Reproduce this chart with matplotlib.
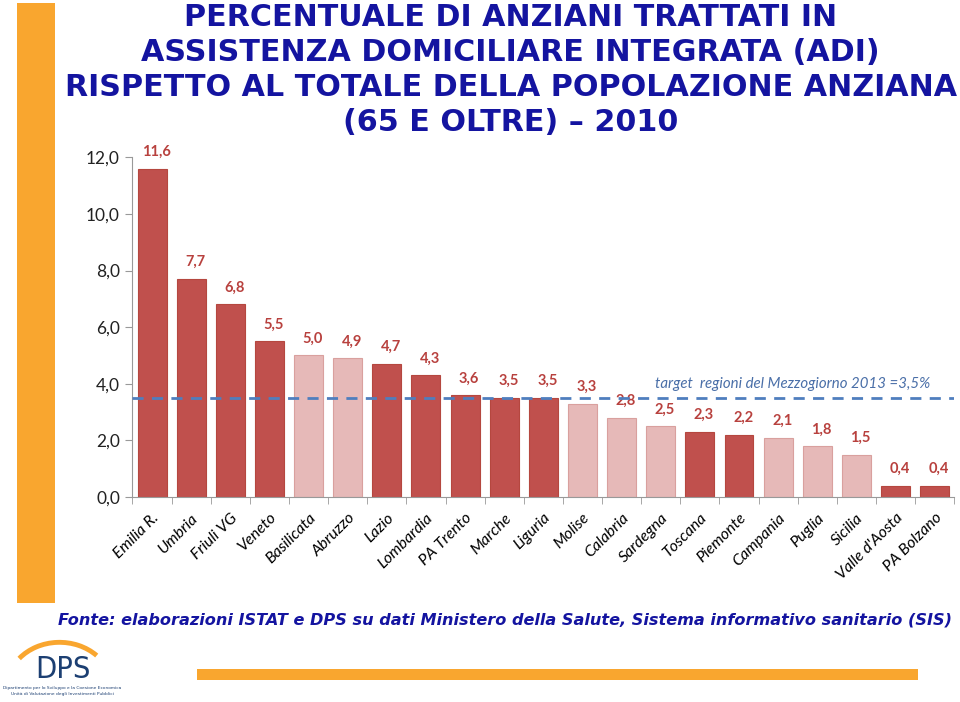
import matplotlib.pyplot as plt
from matplotlib.patches import Rectangle, Arc
from matplotlib.ticker import FixedLocator

regioni = ["Emilia R.", "Umbria", "Friuli VG", "Veneto", "Basilicata", "Abruzzo",
           "Lazio", "Lombardia", "PA Trento", "Marche", "Liguria", "Molise",
           "Calabria", "Sardegna", "Toscana", "Piemonte", "Campania", "Puglia",
           "Sicilia", "Valle d'Aosta", "PA Bolzano"]
valori = [11.6, 7.7, 6.8, 5.5, 5.0, 4.9, 4.7, 4.3, 3.6, 3.5, 3.5, 3.3,
          2.8, 2.5, 2.3, 2.2, 2.1, 1.8, 1.5, 0.4, 0.4]
mezzogiorno = ["Basilicata", "Abruzzo", "Molise", "Calabria", "Sardegna",
               "Campania", "Puglia", "Sicilia"]
target = 3.5

scuro = "#C0504D"
chiaro = "#E6B9B8"
blu_tit = "#1414A0"
arancio = "#F9A62F"

fig = plt.figure(figsize=(9.6, 7.02), dpi=100)
fig.patch.set_facecolor("white")

# barre decorative arancioni
fig.add_artist(Rectangle((0.0177, 0.141), 0.0396, 0.855, transform=fig.transFigure,
                         facecolor=arancio, edgecolor="none"))
fig.add_artist(Rectangle((0.205, 0.0313), 0.751, 0.0157, transform=fig.transFigure,
                         facecolor=arancio, edgecolor="none"))

# titolo
righe = ["PERCENTUALE DI ANZIANI TRATTATI IN",
         "ASSISTENZA DOMICILIARE INTEGRATA (ADI)",
         "RISPETTO AL TOTALE DELLA POPOLAZIONE ANZIANA",
         "(65 E OLTRE) \u2013 2010"]
for i, r in enumerate(righe):
    fig.text(0.532, 1 - (26 + 35 * i) / 702, r, ha="center", va="baseline",
             fontsize=21.7, fontweight="bold", color=blu_tit, family="DejaVu Sans")

ax = fig.add_axes([0.138, 0.292, 0.856, 0.484])
x = list(range(len(regioni)))
colori = [chiaro if r in mezzogiorno else scuro for r in regioni]
bordi = ["#D9A09E" if r in mezzogiorno else "#B5473F" for r in regioni]
ax.bar(x, valori, width=0.74, color=colori, edgecolor=bordi, linewidth=0.8, zorder=2)

for xi, v in zip(x, valori):
    ax.annotate(f"{v:.1f}".replace(".", ","), (xi, v), xytext=(3, 7),
                textcoords="offset points", ha="center", va="bottom",
                fontsize=10.5, fontweight="bold", color="#B8413E", family="Lato")

ax.axhline(target, color="#4F7EBE", linewidth=2, linestyle=(0, (4, 3)), zorder=3)
ax.text(16.38, 4.0, "target  regioni del Mezzogiorno 2013 =3,5%", ha="center",
        va="center", fontsize=10.8, style="italic", color="#4A6FA8", family="Lato")

ax.set_xlim(-0.5, len(regioni) - 0.5)
ax.set_ylim(0, 12)
ax.set_yticks([0, 2, 4, 6, 8, 10, 12])
ax.set_yticklabels([f"{t:.1f}".replace(".", ",") for t in [0, 2, 4, 6, 8, 10, 12]],
                   fontsize=12.5, family="Lato", color="#222222")
ax.set_xticks(x)
ax.set_xticklabels(regioni, rotation=45, ha="right", rotation_mode="anchor",
                   fontsize=11.5, style="italic", family="Lato")
ax.tick_params(axis="x", which="major", length=0, pad=10)
ax.xaxis.set_minor_locator(FixedLocator([i - 0.5 for i in range(len(regioni) + 1)]))
ax.tick_params(axis="x", which="minor", length=5, color="#999999")
ax.tick_params(axis="y", length=5, color="#999999", pad=4)
for s in ["top", "right"]:
    ax.spines[s].set_visible(False)
for s in ["left", "bottom"]:
    ax.spines[s].set_color("#999999")

# fonte
fig.text(0.06, 1 - 620 / 702,
         "Fonte: elaborazioni ISTAT e DPS su dati Ministero della Salute, Sistema informativo sanitario (SIS)",
         ha="left", va="center", fontsize=11.6, fontweight="bold", style="italic",
         color=blu_tit, family="DejaVu Sans")

# logo DPS
fig.add_artist(Arc((0.062, 0.02), 0.11, 0.13, theta1=50, theta2=135,
                   transform=fig.transFigure, color=arancio, linewidth=3.5))
fig.text(0.066, 1 - 670 / 702, "DPS", ha="center", va="center", fontsize=22,
         color="#1C3F72", family="DejaVu Sans", fontstretch="condensed")
fig.text(0.065, 1 - 688 / 702, "Dipartimento per lo Sviluppo e la Coesione Economica",
         ha="center", va="center", fontsize=3.2, color="#1C3F72")
fig.text(0.065, 1 - 694 / 702, "Unit\u00e0 di Valutazione degli Investimenti Pubblici",
         ha="center", va="center", fontsize=3.2, color="#1C3F72")

fig.savefig("out.png", dpi=100)
